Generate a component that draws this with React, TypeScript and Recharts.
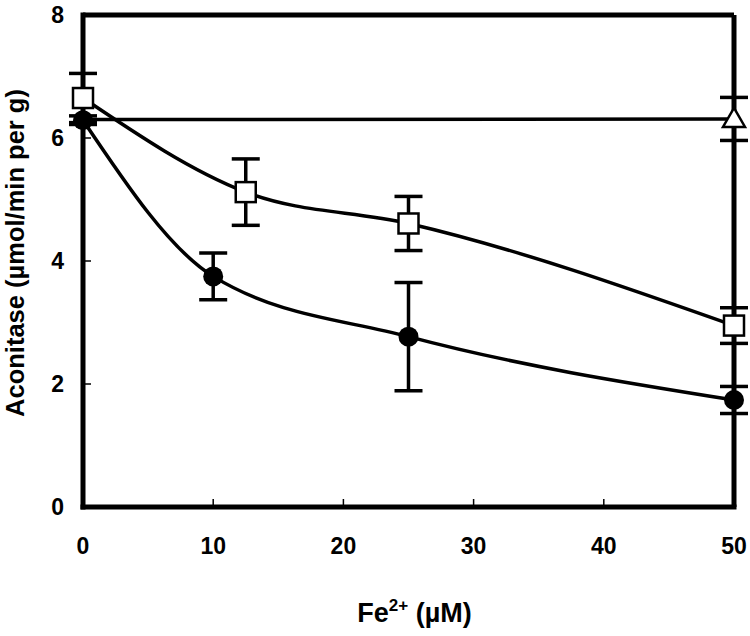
import { ComposedChart, Line, XAxis, YAxis, ErrorBar, ReferenceLine } from 'recharts'

// Fe2+ concentration (µM) vs aconitase activity
const xTicks = [0, 10, 20, 30, 40, 50]
const yTicks = [0, 2, 4, 6, 8]

const circleX = [0, 10, 25, 50]
const circleY = [6.29, 3.75, 2.77, 1.74]
const circleErr = [0.07, 0.38, 0.88, 0.22]

const squareX = [0, 12.5, 25, 50]
const squareY = [6.65, 5.12, 4.61, 2.95]
const squareErr = [0.4, 0.54, 0.44, 0.29]

const triangleX = [0, 50]
const triangleY = [6.3, 6.31]
const triangleErr = [0, 0.35]

const zip = (xs: number[], ys: number[], es: number[]) =>
  xs.map((x, i) => ({ x, y: ys[i], err: es[i] }))

const circleData = zip(circleX, circleY, circleErr)
const squareData = zip(squareX, squareY, squareErr)
const triangleData = zip(triangleX, triangleY, triangleErr)

const FONT = '"Liberation Sans", Arial, sans-serif'
const NARROW = '"Liberation Sans Narrow", "Arial Narrow", "Liberation Sans", sans-serif'

const CircleDot = (p: any) => (
  <circle key={`c-${p.index}`} cx={p.cx} cy={p.cy} r={10} fill="#000" />
)

const SquareDot = (p: any) => (
  <rect
    key={`s-${p.index}`}
    x={p.cx - 10}
    y={p.cy - 10}
    width={20}
    height={20}
    fill="#fff"
    stroke="#000"
    strokeWidth={2.5}
  />
)

const TriangleDot = (p: any) =>
  p.index === 0 ? (
    <g key={`t-${p.index}`} />
  ) : (
    <polygon
      key={`t-${p.index}`}
      points={`${p.cx},${p.cy - 11} ${p.cx + 11},${p.cy + 8} ${p.cx - 11},${p.cy + 8}`}
      fill="#fff"
      stroke="#000"
      strokeWidth={2.5}
    />
  )

const XTitle = (props: any) => {
  const vb = props.viewBox || { x: 83, y: 507, width: 651 }
  return (
    <text
      x={vb.x + vb.width / 2 + 6}
      y={vb.y + 115}
      textAnchor="middle"
      fontFamily={FONT}
      fontWeight="bold"
      fontSize={27}
      fill="#000"
    >
      Fe
      <tspan dy={-11} fontSize={17}>2+</tspan>
      <tspan dy={11}> (µM)</tspan>
    </text>
  )
}

const YTitle = () => (
  <text
    x={24}
    y={253}
    transform="rotate(-90, 24, 253)"
    textAnchor="middle"
    fontFamily={NARROW}
    fontWeight="bold"
    fontSize={25.5}
    fill="#000"
  >
    Aconitase (µmol/min per g)
  </text>
)

export default function App() {
  const axisLine = { stroke: '#000', strokeWidth: 5, strokeLinecap: 'square' as const }
  const tickStyle = { fill: '#000', fontSize: 23, fontWeight: 'bold', fontFamily: FONT }
  return (
    <div style={{ position: 'absolute', left: 0, top: 0, background: '#fff' }}>
      <ComposedChart
        width={750}
        height={636}
        margin={{ top: 15, right: 16, bottom: 0, left: 0 }}
      >
        <XAxis
          type="number"
          dataKey="x"
          domain={[0, 50]}
          ticks={xTicks}
          height={129}
          axisLine={axisLine}
          tickLine={{ stroke: '#000', strokeWidth: 1.5 }}
          tickSize={-8}
          tickMargin={39}
          tick={tickStyle}
          label={{ content: XTitle }}
        />
        <YAxis
          type="number"
          dataKey="y"
          domain={[0, 8]}
          ticks={yTicks}
          width={83}
          axisLine={axisLine}
          tickLine={{ stroke: '#000', strokeWidth: 1.5 }}
          tickSize={-8}
          tickMargin={27}
          tick={tickStyle}
          label={{ content: YTitle }}
        />
        <ReferenceLine y={8} stroke="#000" strokeWidth={5} />
        <ReferenceLine x={50} stroke="#000" strokeWidth={5} />
        <Line
          data={triangleData}
          dataKey="y"
          type="linear"
          stroke="#000"
          strokeWidth={3.5}
          dot={TriangleDot}
          isAnimationActive={false}
        >
          <ErrorBar dataKey="err" direction="y" width={14} strokeWidth={3.5} stroke="#000" />
        </Line>
        <Line
          data={squareData}
          dataKey="y"
          type="monotone"
          stroke="#000"
          strokeWidth={3.5}
          dot={SquareDot}
          isAnimationActive={false}
        >
          <ErrorBar dataKey="err" direction="y" width={14} strokeWidth={3.5} stroke="#000" />
        </Line>
        <Line
          data={circleData}
          dataKey="y"
          type="monotone"
          stroke="#000"
          strokeWidth={3.5}
          dot={CircleDot}
          isAnimationActive={false}
        >
          <ErrorBar dataKey="err" direction="y" width={14} strokeWidth={3.5} stroke="#000" />
        </Line>
      </ComposedChart>
    </div>
  )
}
